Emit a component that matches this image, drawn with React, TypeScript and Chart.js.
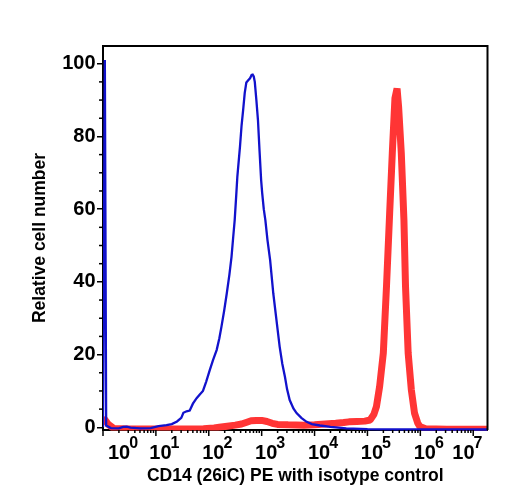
import React, { useEffect, useRef } from 'react';
import { Chart, registerables } from 'chart.js';

Chart.register(...registerables);

const FONT = '"Liberation Sans", Arial, Helvetica, sans-serif';

// Isotype control histogram: log10 fluorescence vs relative cell number
const isoLog = [
  0.0, 0.035, 0.06, 0.15, 0.3, 0.38, 0.45, 0.52, 0.7, 0.9, 1.05, 1.2, 1.3, 1.4, 1.48,
  1.52, 1.58, 1.64, 1.7, 1.77, 1.83, 1.89, 1.95, 2.02, 2.08, 2.15, 2.2, 2.24, 2.29, 2.34,
  2.39, 2.43, 2.46, 2.49, 2.52, 2.54, 2.59, 2.62, 2.65, 2.68, 2.71, 2.75, 2.78, 2.81, 2.83,
  2.85, 2.87, 2.9, 2.93, 2.96, 2.99, 3.01, 3.04, 3.07, 3.11, 3.16, 3.22, 3.28, 3.34, 3.39,
  3.44, 3.48, 3.53, 3.6, 3.66, 3.75, 3.85, 3.95, 4.1, 4.3, 4.6, 5.0, 6.0, 7.27,
];
const isoCount = [
  0, 101, 0.5, -0.2, -0.3, 0.1, 0.2, -0.1, -0.3, -0.2, 0.3, 0.6, 0.9, 1.6, 2.6,
  4.0, 4.4, 4.6, 6.5, 8.0, 9.0, 10.0, 12.5, 15.8, 18.5, 21.3, 24.5, 27.7, 32, 36.8,
  42, 46.9, 52, 57, 64, 68.9, 77.2, 83, 87.3, 92, 94.8, 95.5, 96, 96.9, 97.0,
  96.5, 95, 90, 84.5, 76, 68, 64.4, 60, 57, 51.5, 46, 36.8, 29.5, 22.2, 17.5,
  13.9, 10.5, 7.5, 5.2, 3.9, 2.6, 1.5, 0.9, 0.5, 0.1, -0.3, -0.5, -0.6, -0.6,
];

// CD14 (26iC) PE stained histogram
const cd14Log = [
  0.0, 0.04, 0.1, 0.2, 0.5, 1.0, 1.5, 1.9, 2.1, 2.2, 2.35, 2.5, 2.62, 2.72, 2.8,
  2.9, 3.0, 3.1, 3.2, 3.3, 3.5, 3.8, 4.0, 4.2, 4.4, 4.55, 4.65, 4.8, 4.95, 5.05,
  5.12, 5.17, 5.23, 5.3, 5.36, 5.42, 5.47, 5.52, 5.56, 5.59, 5.64, 5.69, 5.72, 5.77, 5.83,
  5.89, 5.95, 5.99, 6.1, 6.5, 7.27,
];
const cd14Count = [
  2.6, 2.0, 0.8, -0.3, -0.45, -0.45, -0.45, -0.4, -0.2, 0.0, 0.3, 0.6, 0.9, 1.4, 1.8,
  1.9, 1.9, 1.6, 1.1, 0.8, 0.7, 0.6, 0.7, 0.9, 1.1, 1.3, 1.5, 1.6, 1.7, 2.0,
  3.5, 5.7, 11.2, 20.4, 38.7, 58.9, 75.4, 90.5, 93.2, 88, 75.4, 57, 38.7, 20.4, 10.3,
  3.9, 1.2, 0.2, -0.4, -0.5, -0.5,
];

const yMajorTicks = [0, 20, 40, 60, 80, 100];
const yMinorTicks = [5, 10, 15, 25, 30, 35, 45, 50, 55, 65, 70, 75, 85, 90, 95];
const xDecades = [0, 1, 2, 3, 4, 5, 6, 7];
const xMinorMultipliers = [2, 3, 4, 5, 6, 7, 8, 9];

const X_MIN = 1;
const X_MAX = 10 ** 7.27;
const Y_MIN = -0.74;
const Y_MAX = 104.87;

const toPoints = (logs: number[], counts: number[]) =>
  logs.map((l, i) => ({ x: 10 ** l, y: counts[i] }));

// Frame, minor ticks and power-of-ten labels with raised exponents
const axisDecor = {
  id: 'axisDecor',
  afterDraw(chart: any) {
    const { ctx, chartArea: a, scales } = chart;
    const x = scales.x;
    const y = scales.y;
    ctx.save();
    ctx.strokeStyle = '#000';
    ctx.lineWidth = 2;
    ctx.beginPath();
    ctx.moveTo(a.left - 1, a.top);
    ctx.lineTo(a.right, a.top);
    ctx.lineTo(a.right, a.bottom);
    ctx.stroke();

    ctx.lineWidth = 1.5;
    for (const v of yMinorTicks) {
      const py = y.getPixelForValue(v);
      ctx.beginPath();
      ctx.moveTo(a.left - 4, py);
      ctx.lineTo(a.left, py);
      ctx.stroke();
    }

    for (const d of xDecades) {
      const marks = [1, ...xMinorMultipliers];
      for (const m of marks) {
        const v = m * 10 ** d;
        if (v < X_MIN || v > X_MAX) continue;
        const px = x.getPixelForValue(v);
        const len = m === 1 ? 6 : 3;
        ctx.beginPath();
        ctx.moveTo(px, a.bottom);
        ctx.lineTo(px, a.bottom + len);
        ctx.stroke();
      }
    }

    const baseFont = `bold 20px ${FONT}`;
    const supFont = `bold 16px ${FONT}`;
    ctx.fillStyle = '#000';
    ctx.textAlign = 'left';
    ctx.textBaseline = 'alphabetic';
    for (const d of xDecades) {
      const px = x.getPixelForValue(10 ** d);
      ctx.font = baseFont;
      const bw = ctx.measureText('10').width;
      ctx.font = supFont;
      const sw = ctx.measureText(String(d)).width;
      let left = px + 4.5 - bw / 2;
      left = Math.max(left, a.left + 5);
      left = Math.min(left, a.right - 4 - bw - sw);
      ctx.font = baseFont;
      ctx.fillText('10', left, a.bottom + 28.5);
      ctx.font = supFont;
      ctx.fillText(String(d), left + bw - 1, a.bottom + 18);
    }
    ctx.restore();
  },
};

export default function App() {
  const canvasRef = useRef<HTMLCanvasElement | null>(null);

  useEffect(() => {
    const canvas = canvasRef.current;
    if (!canvas) return;
    const chart = new Chart(canvas, {
      type: 'line',
      data: {
        datasets: [
          {
            label: 'Isotype control',
            data: toPoints(isoLog, isoCount),
            borderColor: '#1212cc',
            borderWidth: 2.3,
            pointRadius: 0,
            tension: 0,
            order: 1,
            clip: { left: 0, top: 5, right: 0, bottom: 1.5 } as any,
          },
          {
            label: 'CD14 (26iC) PE',
            data: toPoints(cd14Log, cd14Count),
            borderColor: '#ff3535',
            borderWidth: 7,
            borderJoinStyle: 'bevel',
            pointRadius: 0,
            tension: 0,
            order: 2,
            clip: { left: 0, top: 5, right: 0, bottom: 0.5 } as any,
          },
        ],
      },
      options: {
        responsive: false,
        animation: false,
        devicePixelRatio: 1,
        layout: { padding: { left: 0, top: 46, right: 20.5, bottom: 0 } },
        plugins: { legend: { display: false }, tooltip: { enabled: false } },
        scales: {
          x: {
            type: 'logarithmic',
            min: X_MIN,
            max: X_MAX,
            grid: { display: false },
            border: { display: true, color: '#000', width: 2 },
            ticks: { display: false },
            afterFit: (s: any) => {
              s.height = 70;
            },
            title: {
              display: true,
              text: 'CD14 (26iC) PE with isotype control',
              color: '#000',
              font: { family: FONT, size: 17.5, weight: 'bold' },
              padding: { top: 0, bottom: 13.5 },
            },
          },
          y: {
            type: 'linear',
            min: Y_MIN,
            max: Y_MAX,
            afterBuildTicks: (s: any) => {
              s.ticks = yMajorTicks.map((v) => ({ value: v }));
            },
            afterFit: (s: any) => {
              s.width = 103;
            },
            grid: {
              display: true,
              drawOnChartArea: false,
              drawTicks: true,
              tickLength: 6,
              color: '#000',
              lineWidth: 1.5,
            },
            border: { display: true, color: '#000', width: 2 },
            ticks: {
              color: '#000',
              padding: 1.5,
              font: { family: FONT, size: 20, weight: 'bold' },
              callback: (v: any) => String(v),
            },
            title: {
              display: true,
              text: 'Relative cell number',
              color: '#000',
              font: { family: FONT, size: 17.5, weight: 'bold' },
              padding: { top: 30, bottom: 0 },
            },
          },
        },
      },
      plugins: [axisDecor],
    });
    return () => chart.destroy();
  }, []);

  return (
    <div style={{ position: 'absolute', left: 0, top: 0, width: 508, height: 500, background: '#fff' }}>
      <canvas ref={canvasRef} width={508} height={500} />
    </div>
  );
}
